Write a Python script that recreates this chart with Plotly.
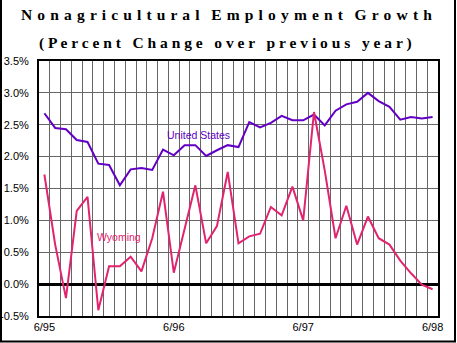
import plotly.graph_objects as go

# ---- data ----
months = list(range(37))  # monthly, 6/95 .. 6/98
us_growth = [2.68, 2.45, 2.43, 2.26, 2.23, 1.89, 1.87, 1.55, 1.80, 1.82,
             1.79, 2.11, 2.02, 2.18, 2.18, 2.01, 2.10, 2.18, 2.15, 2.54,
             2.46, 2.53, 2.64, 2.57, 2.57, 2.66, 2.49, 2.72, 2.82, 2.86,
             3.00, 2.87, 2.78, 2.58, 2.62, 2.60, 2.62]
wy_growth = [1.72, 0.62, -0.22, 1.15, 1.37, -0.41, 0.28, 0.28, 0.43, 0.20,
             0.72, 1.45, 0.18, 0.85, 1.55, 0.64, 0.91, 1.76, 0.64, 0.75,
             0.79, 1.21, 1.08, 1.53, 1.00, 2.70, 1.78, 0.72, 1.23, 0.62,
             1.06, 0.72, 0.62, 0.37, 0.17, -0.01, -0.08]
x_tick_values = [0, 12, 24, 36]
x_tick_labels = ["6/95", "6/96", "6/97", "6/98"]
y_tick_values = [-0.5, 0.0, 0.5, 1.0, 1.5, 2.0, 2.5, 3.0, 3.5]
y_tick_labels = ["-0.5%", "0.0%", "0.5%", "1.0%", "1.5%", "2.0%", "2.5%", "3.0%", "3.5%"]

US_COLOR = "#6200C4"
WY_COLOR = "#E0246F"
GRID = "#666666"

fig = go.Figure()
fig.add_trace(go.Scatter(x=months, y=us_growth, mode="lines", xaxis="x", yaxis="y",
                         line=dict(color=US_COLOR, width=2), name="United States"))
fig.add_trace(go.Scatter(x=months, y=wy_growth, mode="lines", xaxis="x2", yaxis="y",
                         line=dict(color=WY_COLOR, width=2), name="Wyoming"))

# plot area in pixels: left 39, right 438, top 61, bottom 316
L, R, T, B = 39, 438, 61, 316
W, H = 457, 343
def px(x):
    return (x - L) / (R - L)
def py(y):
    return (B - y) / (B - T)

fig.update_layout(
    width=W, height=H, autosize=False,
    margin=dict(l=L, r=W - R, t=T, b=H - B, pad=0, autoexpand=False),
    paper_bgcolor="white", plot_bgcolor="white",
    showlegend=False,
    font=dict(family="Liberation Sans, Arial, sans-serif", size=11, color="black"),
    xaxis=dict(
        range=[-0.5, 36.5], automargin=False,
        tickmode="array", tickvals=x_tick_values, ticktext=x_tick_labels,
        showgrid=False, ticks="", zeroline=False,
        showline=True, mirror=True, linecolor="black", linewidth=2,
        tickfont=dict(size=11), ticklabelstandoff=0,
    ),
    # overlay axis carrying one vertical grid line per month boundary
    xaxis2=dict(
        overlaying="x", anchor="y", side="bottom", matches="x",
        range=[-0.5, 36.5], automargin=False,
        tickmode="linear", tick0=0.5, dtick=1,
        showgrid=True, gridcolor=GRID, gridwidth=1,
        showticklabels=False, ticks="", zeroline=False, showline=False,
    ),
    yaxis=dict(
        range=[-0.5, 3.5], automargin=False,
        tickmode="array", tickvals=y_tick_values, ticktext=y_tick_labels,
        showgrid=True, gridcolor=GRID, gridwidth=1, ticks="",
        zeroline=True, zerolinecolor="black", zerolinewidth=2.5,
        showline=True, mirror=True, linecolor="black", linewidth=2,
        tickfont=dict(size=11), ticklabelstandoff=6,
    ),
)

NB = "\u00a0"
HAIR = "\u200a"
def spaced(s, extra, letter_sep=" "):
    return (" " + NB * extra + " ").join(letter_sep.join(list(w)) for w in s.split(" "))

serif = "Liberation Serif, Times New Roman, serif"
fig.add_annotation(text="<b>" + spaced("Nonagricultural Employment Growth", 1, " " + HAIR) + "</b>",
                   xref="paper", yref="paper", x=px(226), y=py(14),
                   xanchor="center", yanchor="middle", showarrow=False,
                   font=dict(family=serif, size=15.5, color="black"))
fig.add_annotation(text="<b>" + spaced("(Percent Change over previous year)", 1) + "</b>",
                   xref="paper", yref="paper", x=px(225), y=py(43),
                   xanchor="center", yanchor="middle", showarrow=False,
                   font=dict(family=serif, size=15.5, color="black"))

fig.add_annotation(text="United States", x=14.33, y=2.335, xref="x", yref="y",
                   showarrow=False, font=dict(size=10.5, color=US_COLOR))
fig.add_annotation(text="Wyoming", x=6.94, y=0.74, xref="x", yref="y",
                   showarrow=False, font=dict(size=10.5, color=WY_COLOR))

# outer frame of the picture
frame = dict(type="line", xref="paper", yref="paper", line=dict(color="black", width=2))
fig.add_shape(**frame, x0=px(1), x1=px(1), y0=py(0), y1=py(342))
fig.add_shape(**frame, x0=px(0), x1=px(456), y0=py(341.5), y1=py(341.5))
fig.add_shape(**frame, x0=px(455), x1=px(455), y0=py(0), y1=py(342))

fig.write_html("out.html", config={"displayModeBar": False},
               post_script="document.body.style.margin='0';")
